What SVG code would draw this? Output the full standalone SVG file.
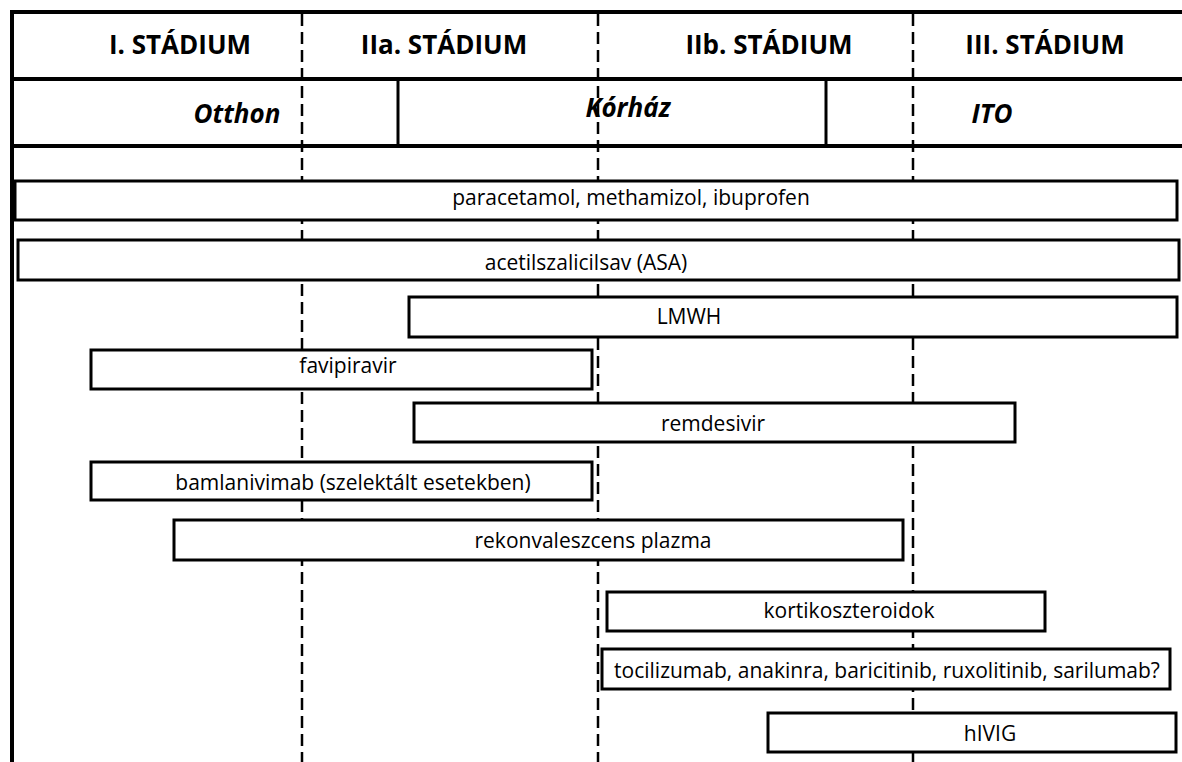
<svg xmlns="http://www.w3.org/2000/svg" width="1182" height="762" viewBox="0 0 1182 762">
<style>
.frame{stroke:#000;stroke-width:4;fill:none}
.sep{stroke:#000;stroke-width:3;fill:none}
.dash{stroke:#000;stroke-width:2.5;stroke-dasharray:12 6;fill:none}
.box{fill:#fff;stroke:#000;stroke-width:3}
.stage{font-family:"Open Sans","Liberation Sans",sans-serif;font-weight:bold;font-size:26px;fill:#000;text-anchor:middle}
.place{font-family:"Open Sans","Liberation Sans",sans-serif;font-weight:bold;font-style:italic;font-size:26px;fill:#000;text-anchor:middle}
.lbl{font-family:"Open Sans","Liberation Sans",sans-serif;font-size:21px;fill:#000;text-anchor:middle}
</style>
<rect width="1182" height="762" fill="#fff"/>
<g id="grid">
<line class="dash" x1="302" y1="14" x2="302" y2="762"/>
<line class="dash" x1="598" y1="14" x2="598" y2="762"/>
<line class="dash" x1="913" y1="14" x2="913" y2="762"/>
<line class="frame" x1="12" y1="12" x2="1182" y2="12"/>
<line class="frame" x1="12" y1="79" x2="1182" y2="79"/>
<line class="frame" x1="12" y1="146" x2="1182" y2="146"/>
<line class="frame" x1="12" y1="10" x2="12" y2="762"/>
<line class="sep" x1="398" y1="79" x2="398" y2="146"/>
<line class="sep" x1="826" y1="79" x2="826" y2="146"/>
</g>
<g id="headers">
<text class="stage" x="180" y="54">I. STÁDIUM</text>
<text class="stage" x="444" y="54">IIa. STÁDIUM</text>
<text class="stage" x="769" y="54">IIb. STÁDIUM</text>
<text class="stage" x="1045" y="54">III. STÁDIUM</text>
<text class="place" x="237" y="123">Otthon</text>
<text class="place" x="628" y="117">Kórház</text>
<text class="place" x="992" y="123">ITO</text>
</g>
<g id="n1"><rect class="box" x="15" y="181" width="1162" height="39"/><text class="lbl" x="631" y="205">paracetamol, methamizol, ibuprofen</text></g>
<g id="n2"><rect class="box" x="18" y="240" width="1161" height="40"/><text class="lbl" x="586" y="270">acetilszalicilsav (ASA)</text></g>
<g id="n3"><rect class="box" x="409" y="297" width="768" height="40"/><text class="lbl" x="689" y="324">LMWH</text></g>
<g id="n4"><rect class="box" x="91" y="350" width="501" height="39"/><text class="lbl" x="348" y="373">favipiravir</text></g>
<g id="n5"><rect class="box" x="414" y="403" width="601" height="39"/><text class="lbl" x="713" y="431">remdesivir</text></g>
<g id="n6"><rect class="box" x="91" y="462" width="501" height="38"/><text class="lbl" x="353" y="490">bamlanivimab (szelektált esetekben)</text></g>
<g id="n7"><rect class="box" x="174" y="520" width="729" height="40"/><text class="lbl" x="593" y="548">rekonvaleszcens plazma</text></g>
<g id="n8"><rect class="box" x="607" y="592" width="438" height="39"/><text class="lbl" x="849" y="618">kortikoszteroidok</text></g>
<g id="n9"><rect class="box" x="602" y="649" width="568" height="40"/><text class="lbl" x="887" y="678">tocilizumab, anakinra, baricitinib, ruxolitinib, sarilumab?</text></g>
<g id="n10"><rect class="box" x="768" y="713" width="408" height="39"/><text class="lbl" x="990" y="741">hIVIG</text></g>
</svg>
